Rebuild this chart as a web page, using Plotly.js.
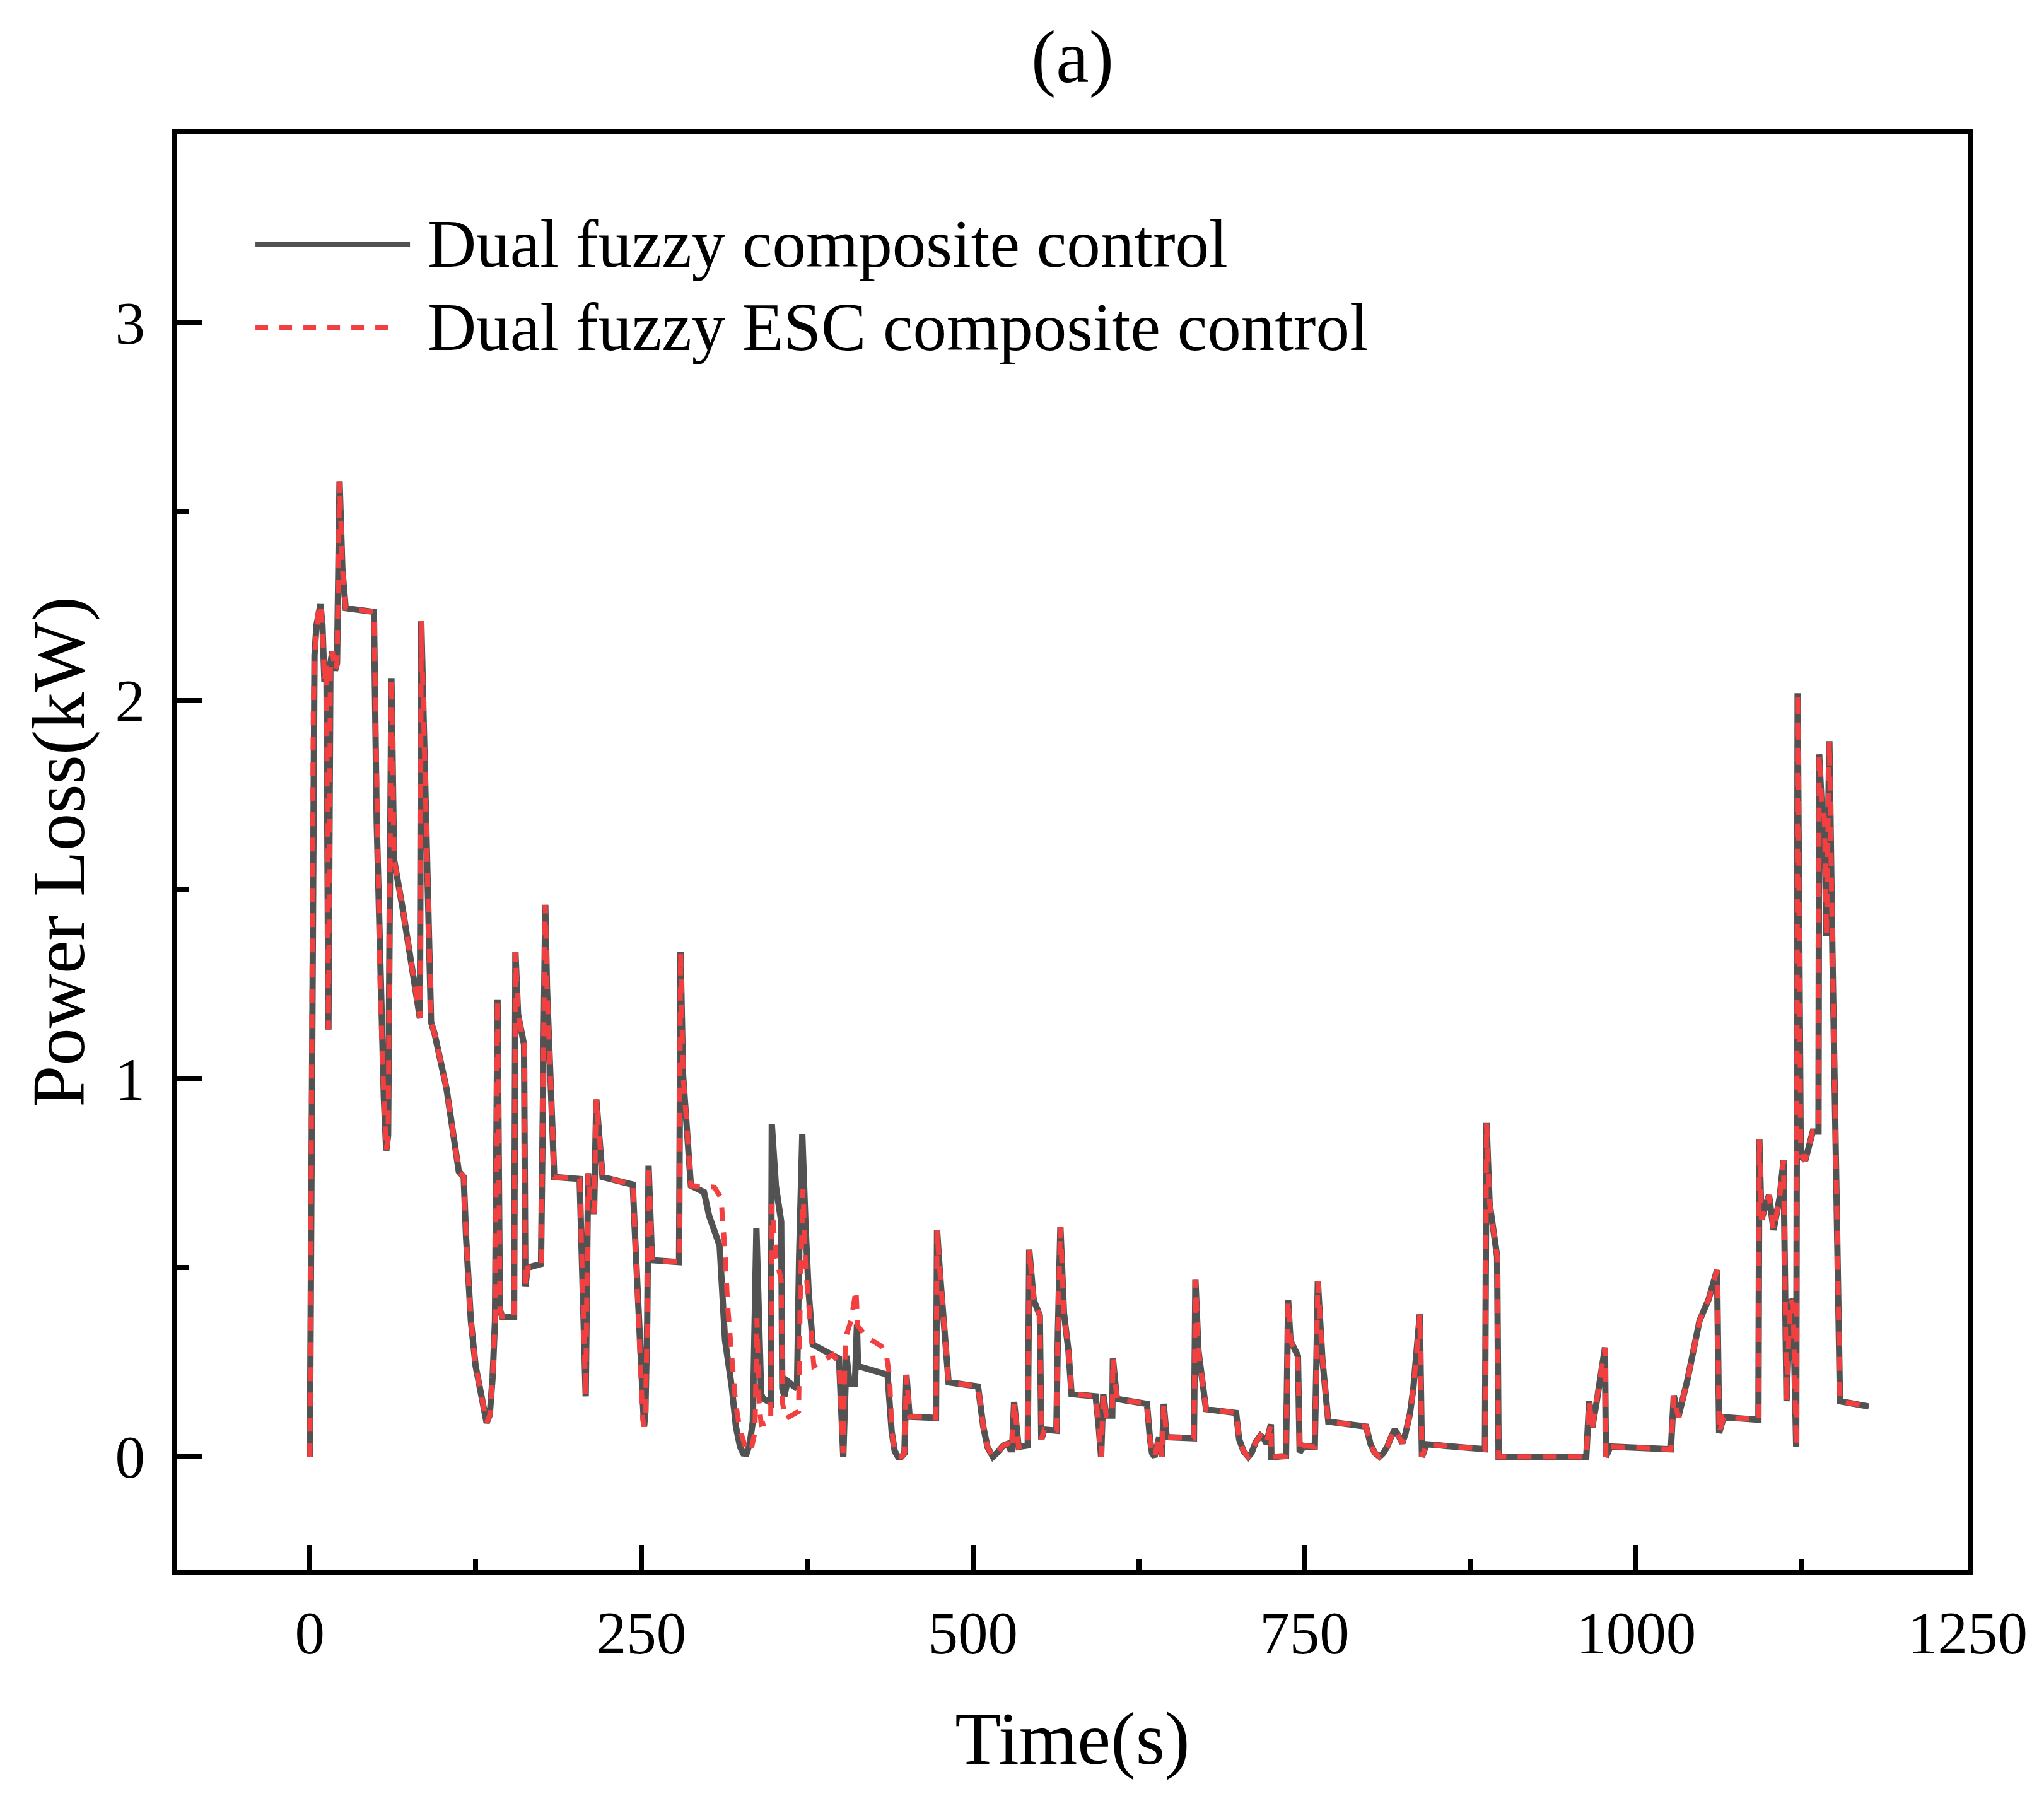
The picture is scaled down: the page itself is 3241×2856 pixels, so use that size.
<!DOCTYPE html>
<html>
<head>
<meta charset="utf-8">
<script src="https://cdn.plot.ly/plotly-3.0.1.min.js"></script>
<style>
  body { margin: 0; background: #fff; }
  #chart { width: 3241px; height: 2856px; }
</style>
</head>
<body>
<div id="chart"></div>
<script>
// values: time (s) and power loss (kW)
var time = [0, 0.6, 1.2, 2, 2.6, 3.5, 5, 6.5, 8, 9.5, 11, 12.5, 14, 15.5, 17, 19, 20.5, 22.4, 24.5, 27, 48.3,
  50.4, 53, 55.8, 57.6, 59, 61.5, 62.5, 63.5, 70, 76, 83, 84, 86.8, 88.6, 91.4, 94, 103, 112.3,
  116, 117.8, 119.6, 121.4, 125, 128.7, 131.4, 133.3, 135.6, 137.8, 139.6, 141.5, 143.3, 145, 154, 155, 157, 161.5,
  162.5, 164.2, 174.3, 176, 177.5, 178.8, 181.5, 184.3, 203.4, 208, 209.8, 211.6, 214.3, 216,
  220.7, 243.5, 245, 247, 249, 251, 252, 253, 254.4, 255.4, 258, 278.4, 279.5, 281.4, 284.3, 287.3, 297.2, 301,
  309, 310, 313, 318.1, 321.3, 324.4, 326.8, 329.2, 331.6, 334, 336.7, 340.3, 341.9, 347.5, 348.3, 351.4, 355.4,
  356.2, 357.8, 360.2, 367.3, 368.9, 371.3, 373.7, 376, 379.2, 399, 402.2, 404.6, 407, 411,
  412.5, 413.3, 435.6, 437, 438.7, 441, 443.5, 446, 448.3, 449.8, 452.2, 472.1, 472.9, 475.2, 481.6, 503.8,
  505.5, 507.8, 511, 515, 518, 520, 523, 526, 528, 529.5, 531, 534.4, 541.3, 542.4, 545.8, 550.4, 551.5, 553.8, 562.9,
  564, 565.9, 568.6, 572, 574.3, 592.5, 594.8, 596.6, 598.2, 600.5, 605, 605.5, 608.5, 631.2,
  633.5, 635, 636.9, 640.4, 642.5, 643.8, 646, 666.6, 667.7, 670, 675.7, 698.4, 700.7, 704, 707.6, 710, 713.2,
  716.7, 719, 721.2, 724.6, 725, 728, 736, 737.6, 739.4, 745, 746.3, 749.7, 757.7, 758.8, 760, 763.4,
  767.9, 796.4, 799.8, 803, 806.6, 809, 812.3, 815, 818, 821, 823.7, 826, 829.4, 832, 834, 836, 836.9, 838.5, 842, 886, 887.2,
  889.5, 895.2, 896.3, 962.4, 964.6, 966.9, 970.3, 976.5, 977.2, 980.6, 1026.2, 1028.4, 1031.8,
  1038.7, 1047.8, 1054.6, 1061, 1062.6, 1066, 1092.2, 1092.9, 1094.5, 1100.2, 1103.6, 1108.2,
  1111.1, 1113.4, 1116.1, 1118.4, 1120.7, 1121.8, 1124.1, 1127.5, 1133.2, 1137.5, 1138, 1140,
  1142, 1143.5, 1145.7, 1148, 1150.3, 1153.7, 1175.4];

var lossFuzzy = [0, 0.5, 1.09, 1.6, 1.97, 2.12, 2.2, 2.24, 2.255, 2.2, 2.05, 2.1, 1.13, 2.1, 2.13, 2.08, 2.1, 2.58, 2.35, 2.245, 2.235,
  1.68, 1.24, 0.95, 0.81, 0.85, 2.06, 1.83, 1.58, 1.45, 1.32, 1.16, 2.21, 1.83, 1.61, 1.15, 1.12, 0.975, 0.755,
  0.74, 0.58, 0.46, 0.36, 0.24, 0.17, 0.11, 0.09, 0.11, 0.21, 0.36, 1.21, 0.39, 0.37, 0.37, 1.335, 1.17, 1.09,
  0.45, 0.5, 0.51, 0.97, 1.46, 1.24, 0.99, 0.74, 0.735, 0.16, 0.75, 0.65, 0.65, 0.945,
  0.74, 0.72, 0.6, 0.43, 0.25, 0.1, 0.08, 0.12, 0.36, 0.77, 0.52, 0.515, 1.335, 1.01, 0.87, 0.717, 0.70, 0.638,
  0.558, 0.47, 0.31, 0.185, 0.079, 0.026, 0.009, 0.008, 0.033, 0.093, 0.605, 0.166, 0.153, 0.143, 0.88, 0.716, 0.622,
  0.18, 0.16, 0.2, 0.18, 0.528, 0.853, 0.615, 0.441, 0.297, 0.26, 0.0, 0.267, 0.193, 0.193,
  0.35, 0.24, 0.217, 0.15, 0.066, 0.015, 0.0, 0.0, 0.009, 0.217, 0.106, 0.103, 0.6, 0.481, 0.197, 0.186,
  0.13, 0.079, 0.025, 0.0, 0.01, 0.02, 0.03, 0.034, 0.02, 0.02, 0.145, 0.026, 0.03, 0.548, 0.414, 0.374, 0.046, 0.072, 0.069,
  0.327, 0.608, 0.38, 0.28, 0.166, 0.16, 0.08, 0.0, 0.166, 0.109, 0.109, 0.26, 0.153, 0.14,
  0.046, 0.01, 0.0, 0.052, 0.0, 0.14, 0.052, 0.049, 0.468, 0.28, 0.126, 0.116, 0.046, 0.015, 0.0, 0.01, 0.039,
  0.056, 0.05, 0.036, 0.086, 0.0, 0.0, 0.002, 0.414, 0.307, 0.267, 0.012, 0.029, 0.026, 0.227, 0.464, 0.26,
  0.093, 0.08, 0.033, 0.01, 0.0, 0.008, 0.026, 0.05, 0.072, 0.055, 0.036, 0.06, 0.113, 0.18, 0.247, 0.33, 0.377, 0.0, 0.033, 0.02, 0.883,
  0.671, 0.53, 0.0, 0.0, 0.147, 0.077, 0.147, 0.289, 0.0, 0.027, 0.02, 0.162, 0.105,
  0.204, 0.36, 0.416, 0.494, 0.063, 0.105, 0.098, 0.84, 0.628, 0.692, 0.6, 0.685,
  0.784, 0.147, 0.416, 0.402, 0.027, 2.02, 0.798, 0.784, 0.86, 0.86, 1.858, 1.717,
  1.69, 1.378, 1.893, 1.335, 0.84, 0.147, 0.133];

// where the ESC curve leaves the other one (about 297 s to 439 s)
var escTimeMid = [297.2, 305, 310, 313, 315, 318, 321, 324, 328.8, 332.5, 335.6, 337.1, 337.9, 338.7,
  340.3, 347.5, 348.3, 349.8, 351.4, 355.4, 356.2, 358.6, 368.5, 369.7, 371.8, 373.7, 376.8, 378.4,
  380, 394.3, 399, 402, 403.8, 408, 411.8, 413, 419.7, 430.8, 434.8, 437.1, 438.7];
var escLossMid = [0.715, 0.713, 0.685, 0.545, 0.40, 0.264, 0.142, 0.077, 0.02, 0.015, 0.066, 0.367, 0.213, 0.146,
  0.086, 0.093, 0.668, 0.588, 0.528, 0.468, 0.146, 0.1, 0.12, 0.414, 0.709, 0.508, 0.36, 0.287,
  0.24, 0.27, 0.25, 0.01, 0.314, 0.36, 0.441, 0.347, 0.317, 0.293, 0.267, 0.213, 0.066];

var nameFuzzy = 'Dual fuzzy composite control';
var nameEsc = 'Dual fuzzy ESC composite control';

// ESC series: same as the first curve outside the window
var escTime = [], escLoss = [];
for (var i = 0; i < time.length; i++) {
  if (time[i] < escTimeMid[0]) { escTime.push(time[i]); escLoss.push(lossFuzzy[i]); }
}
escTime = escTime.concat(escTimeMid);
escLoss = escLoss.concat(escLossMid);
for (var j = 0; j < time.length; j++) {
  if (time[j] > escTimeMid[escTimeMid.length - 1]) { escTime.push(time[j]); escLoss.push(lossFuzzy[j]); }
}

var gray = 'rgb(82,82,82)';
var red = 'rgb(242,64,64)';
var serif = 'Liberation Serif, Times New Roman, serif';

var trace1 = {
  x: time, y: lossFuzzy, name: nameFuzzy, type: 'scatter', mode: 'lines',
  line: { color: gray, width: 10 }
};
var trace2 = {
  x: escTime, y: escLoss, name: nameEsc, type: 'scatter', mode: 'lines',
  line: { color: red, width: 8, dash: '22px,18px' }
};

var axisCommon = {
  showline: true, linewidth: 8, linecolor: '#000', mirror: true,
  ticks: 'inside', ticklen: 40, tickwidth: 8, tickcolor: '#000',
  showgrid: false, zeroline: false,
  tickfont: { family: serif, size: 95, color: '#000' }
};

var layout = {
  width: 3241, height: 2856,
  margin: { l: 281, r: 121, t: 212, b: 366 },
  paper_bgcolor: '#fff', plot_bgcolor: '#fff',
  showlegend: false,
  title: { text: '(a)', font: { family: serif, size: 118, color: '#000' },
    x: 0.5, xref: 'paper', y: 0.969, yref: 'container', yanchor: 'middle' },
  xaxis: Object.assign({}, axisCommon, {
    range: [-100, 1250], tick0: 0, dtick: 250, ticklabelstandoff: 10,
    minor: { ticks: 'inside', dtick: 125, tick0: 0, ticklen: 18, tickwidth: 8, tickcolor: '#000', showgrid: false },
    title: { text: 'Time(s)', font: { family: serif, size: 119, color: '#000' }, standoff: 75 }
  }),
  yaxis: Object.assign({}, axisCommon, {
    range: [-0.3, 3.5], tick0: 0, dtick: 1, ticklabelstandoff: 24,
    minor: { ticks: 'inside', dtick: 0.5, tick0: 0, ticklen: 18, tickwidth: 8, tickcolor: '#000', showgrid: false },
    title: { text: 'Power Loss(kW)', font: { family: serif, size: 119, color: '#000' }, standoff: 12 }
  }),
  // legend drawn by hand so the sample lines get the long length of the original
  shapes: [
    { type: 'line', xref: 'paper', yref: 'paper', x0: 0.0437, x1: 0.130, y0: 0.9232, y1: 0.9232,
      line: { color: gray, width: 8 } },
    { type: 'line', xref: 'paper', yref: 'paper', x0: 0.0437, x1: 0.123, y0: 0.8652, y1: 0.8652,
      line: { color: red, width: 8, dash: '20px,18px' } }
  ],
  annotations: [
    { text: nameFuzzy, xref: 'paper', yref: 'paper', x: 0.139, y: 0.9232, xanchor: 'left', yanchor: 'middle',
      showarrow: false, font: { family: serif, size: 107, color: '#000' } },
    { text: nameEsc, xref: 'paper', yref: 'paper', x: 0.139, y: 0.8652, xanchor: 'left', yanchor: 'middle',
      showarrow: false, font: { family: serif, size: 107, color: '#000' } }
  ]
};

Plotly.newPlot('chart', [trace1, trace2], layout, { staticPlot: true });
</script>
</body>
</html>
